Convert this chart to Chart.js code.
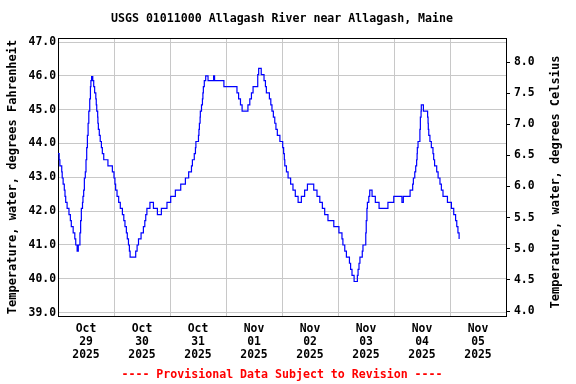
<!DOCTYPE html>
<html><head><meta charset="utf-8">
<script src="https://cdn.jsdelivr.net/npm/chart.js@4.4.1/dist/chart.umd.min.js"></script>
<style>html,body{margin:0;padding:0;background:#fff;}canvas{display:block;}</style>
</head><body>
<canvas id="c" width="576" height="384"></canvas>
<script>
const titleText = 'USGS 01011000 Allagash River near Allagash, Maine';
const footerText = '---- Provisional Data Subject to Revision ----';
const leftAxisTitle = 'Temperature, water, degrees Fahrenheit';
const rightAxisTitle = 'Temperature, water, degrees Celsius';

// x axis: hours since Oct 29 2025 00:00
const gridHours = [0, 24, 48, 72, 96, 120, 144, 168, 192];
const dayLabelHours = [12, 36, 60, 84, 108, 132, 156, 180];
const dayLabels = [
  ['Oct', '29', '2025'], ['Oct', '30', '2025'], ['Oct', '31', '2025'], ['Nov', '01', '2025'],
  ['Nov', '02', '2025'], ['Nov', '03', '2025'], ['Nov', '04', '2025'], ['Nov', '05', '2025']
];
const fTicks = [39, 40, 41, 42, 43, 44, 45, 46, 47];
const cTicks = [4.0, 4.5, 5.0, 5.5, 6.0, 6.5, 7.0, 7.5, 8.0];

// water temperature, degrees F (level starts at the given hour)
const hours = [
  0.0, 0.5, 0.8, 1.6, 1.8, 2.2, 2.7, 3.0, 3.3, 3.9, 4.7, 5.3, 5.7, 6.5, 7.2, 7.6, 8.2, 8.7, 9.4, 9.7,
  10.0, 10.5, 10.7, 11.0, 11.3, 11.7, 12.0, 12.3, 12.6, 12.9, 13.2, 13.6, 13.9, 14.1, 14.4, 14.9, 15.3, 15.7, 16.2, 16.4,
  16.6, 17.0, 17.1, 17.3, 17.7, 18.1, 18.6, 19.0, 19.6, 21.4, 23.3, 24.0, 24.4, 24.7, 25.3, 26.0, 26.7, 27.6, 28.2, 28.7,
  29.3, 29.7, 30.2, 30.6, 30.9, 33.3, 33.9, 34.5, 35.6, 36.6, 37.2, 37.6, 38.1, 39.4, 40.9, 42.6, 44.3, 46.7, 48.3, 50.3,
  52.6, 54.6, 56.0, 57.2, 57.6, 58.4, 58.9, 59.1, 60.2, 60.4, 60.6, 60.9, 61.0, 61.5, 61.9, 62.1, 62.3, 62.7, 63.3, 64.3,
  66.7, 67.1, 71.1, 76.7, 77.4, 78.2, 78.9, 81.4, 82.2, 82.9, 83.6, 85.6, 86.0, 87.1, 88.3, 88.9, 89.3, 90.6, 91.2, 91.7,
  92.3, 92.9, 93.4, 94.0, 95.1, 96.3, 96.7, 97.0, 97.2, 97.9, 98.6, 99.7, 100.7, 101.7, 102.9, 104.3, 105.7, 106.9, 109.6, 111.0,
  112.2, 113.3, 114.3, 115.7, 118.2, 120.4, 121.7, 122.1, 122.9, 123.6, 124.9, 125.4, 126.0, 126.9, 128.3, 128.6, 129.0, 129.4, 130.4, 130.7,
  131.9, 132.1, 132.4, 132.6, 133.2, 133.6, 134.6, 136.0, 137.6, 141.4, 143.9, 147.4, 148.0, 150.9, 152.0, 152.3, 152.9, 153.3, 153.7, 153.9,
  154.0, 154.3, 155.1, 155.3, 155.6, 155.7, 156.6, 158.4, 158.6, 158.7, 158.9, 159.4, 160.0, 160.7, 161.0, 161.4, 162.3, 162.9, 163.7, 164.3,
  165.0, 166.9, 168.6, 169.6, 170.4, 170.9, 171.4, 171.9
];
const tempF = [
  43.70, 43.52, 43.34, 43.16, 42.98, 42.80, 42.62, 42.44, 42.26, 42.08, 41.90, 41.72, 41.54, 41.36, 41.18, 41.00, 40.82, 41.00, 41.36, 41.72,
  42.08, 42.26, 42.44, 42.62, 42.98, 43.16, 43.52, 43.88, 44.24, 44.60, 44.96, 45.32, 45.68, 45.86, 45.98, 45.86, 45.68, 45.50, 45.32, 45.14,
  44.96, 44.78, 44.60, 44.42, 44.24, 44.06, 43.88, 43.70, 43.52, 43.34, 43.16, 42.98, 42.80, 42.62, 42.44, 42.26, 42.08, 41.90, 41.72, 41.54,
  41.36, 41.18, 41.00, 40.82, 40.64, 40.82, 41.00, 41.18, 41.36, 41.54, 41.72, 41.90, 42.08, 42.26, 42.08, 41.90, 42.08, 42.26, 42.44, 42.62,
  42.80, 42.98, 43.16, 43.34, 43.52, 43.70, 43.88, 44.06, 44.24, 44.42, 44.60, 44.78, 44.96, 45.14, 45.32, 45.50, 45.68, 45.86, 46.00, 45.86,
  46.00, 45.86, 45.68, 45.50, 45.32, 45.14, 44.96, 45.14, 45.32, 45.50, 45.68, 46.04, 46.22, 46.04, 45.86, 45.68, 45.50, 45.32, 45.14, 44.96,
  44.78, 44.60, 44.42, 44.24, 44.06, 43.88, 43.70, 43.52, 43.34, 43.16, 42.98, 42.80, 42.62, 42.44, 42.26, 42.44, 42.62, 42.80, 42.62, 42.44,
  42.26, 42.08, 41.90, 41.72, 41.54, 41.36, 41.18, 41.00, 40.82, 40.64, 40.46, 40.28, 40.10, 39.92, 40.10, 40.28, 40.46, 40.64, 40.82, 41.00,
  41.36, 41.72, 42.08, 42.26, 42.44, 42.62, 42.44, 42.26, 42.08, 42.26, 42.44, 42.26, 42.44, 42.62, 42.80, 42.98, 43.16, 43.34, 43.52, 43.70,
  43.88, 44.06, 44.42, 44.78, 44.96, 45.14, 44.96, 44.78, 44.60, 44.42, 44.24, 44.06, 43.88, 43.70, 43.52, 43.34, 43.16, 42.98, 42.80, 42.62,
  42.44, 42.26, 42.08, 41.90, 41.72, 41.54, 41.36, 41.18
];

const FONT_FAMILY = '"DejaVu Sans Mono", "Liberation Mono", monospace';
const tickFont = { family: FONT_FAMILY, size: 11.4, weight: 'bold', lineHeight: 1.15 };
const titleFont = { family: FONT_FAMILY, size: 12, weight: 'bold', lineHeight: 1.2 };

const framePlugin = {
  id: 'frameText',
  afterDraw(chart) {
    const { ctx, chartArea } = chart;
    ctx.save();
    ctx.strokeStyle = '#000';
    ctx.lineWidth = 1;
    ctx.beginPath();
    ctx.moveTo(chartArea.left, Math.round(chartArea.top) + 0.5);
    ctx.lineTo(chartArea.right, Math.round(chartArea.top) + 0.5);
    ctx.stroke();
    const cx = (chartArea.left + chartArea.right) / 2;
    ctx.font = 'bold 11.6px ' + FONT_FAMILY;
    ctx.textAlign = 'center';
    ctx.textBaseline = 'middle';
    ctx.fillStyle = '#000';
    ctx.fillText(titleText, cx, 19);
    // right axis title, reading bottom to top like the left one
    ctx.save();
    ctx.translate(556, 182);
    ctx.rotate(-Math.PI / 2);
    ctx.font = 'bold 12px ' + FONT_FAMILY;
    ctx.fillText(rightAxisTitle, 0, 0);
    ctx.restore();
    ctx.fillStyle = '#ff0000';
    ctx.font = 'bold 11.6px ' + FONT_FAMILY;
    ctx.fillText(footerText, cx, 375);
    ctx.restore();
  }
};

new Chart(document.getElementById('c'), {
  type: 'line',
  data: {
    datasets: [{
      data: hours.map((h, i) => ({ x: h, y: tempF[i] })),
      borderColor: '#0000ff',
      borderWidth: 1.2,
      pointRadius: 0,
      stepped: true,
      fill: false,
      xAxisID: 'x',
      yAxisID: 'y'
    }]
  },
  options: {
    responsive: false,
    animation: false,
    devicePixelRatio: 1,
    layout: { padding: { top: 38, bottom: 20, left: 0, right: 0 } },
    plugins: { legend: { display: false }, tooltip: { enabled: false }, title: { display: false } },
    scales: {
      x: {
        type: 'linear', position: 'bottom', min: 0, max: 192, weight: 0,
        afterBuildTicks: s => { s.ticks = gridHours.map(v => ({ value: v })); },
        ticks: { display: false },
        grid: { color: '#c8c8c8', lineWidth: 1, drawTicks: false },
        border: { display: true, color: '#000', width: 1 },
        afterFit: s => { s.height = 0; }
      },
      xl: {
        type: 'linear', position: 'bottom', min: 0, max: 192, weight: 1,
        afterBuildTicks: s => { s.ticks = dayLabelHours.map(v => ({ value: v })); },
        ticks: {
          autoSkip: false, maxRotation: 0, color: '#000', font: tickFont, padding: 6,
          callback: (v, i) => dayLabels[i]
        },
        grid: { display: false, drawTicks: false },
        border: { display: false },
        afterFit: s => { s.height = 48; }
      },
      y: {
        type: 'linear', position: 'left', min: 38.9, max: 47.12,
        afterBuildTicks: s => { s.ticks = fTicks.map(v => ({ value: v })); },
        ticks: { color: '#000', font: tickFont, padding: 2, callback: v => Number(v).toFixed(1) },
        grid: { color: '#c8c8c8', lineWidth: 1, drawTicks: false },
        border: { display: true, color: '#000', width: 1 },
        title: { display: true, text: leftAxisTitle, color: '#000', font: titleFont, padding: { top: 6, bottom: 0 } },
        afterFit: s => { s.width = 58; }
      },
      yC: {
        type: 'linear', position: 'right', min: 3.92, max: 8.386,
        afterBuildTicks: s => { s.ticks = cTicks.map(v => ({ value: v })); },
        ticks: { color: '#000', font: tickFont, padding: 4, callback: v => Number(v).toFixed(1) },
        grid: { drawOnChartArea: false, drawTicks: true, tickLength: 4, color: '#000' },
        border: { display: true, color: '#000', width: 1 },
        title: { display: false },
        afterFit: s => { s.width = 70; }
      }
    }
  },
  plugins: [framePlugin]
});
</script>
</body></html>
